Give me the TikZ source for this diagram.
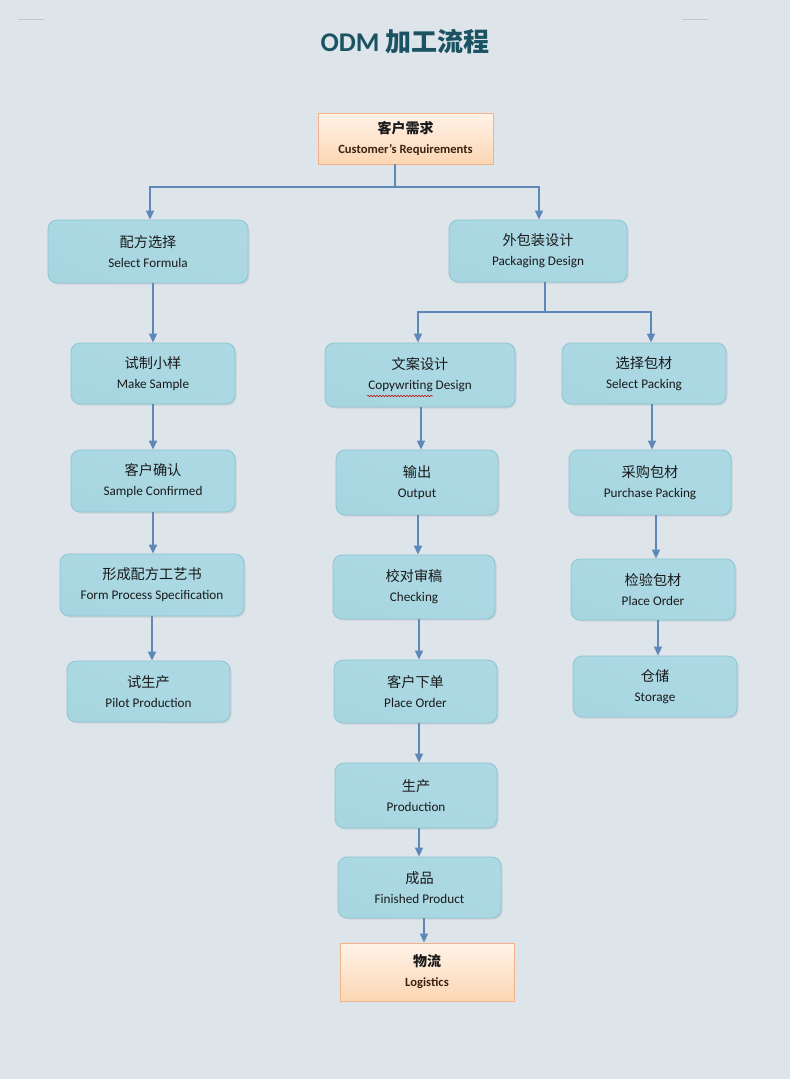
\documentclass[tikz,border=0pt]{standalone}
\usepackage{fontspec}
\setmainfont{Carlito}
\newfontfamily\cjk{Noto Sans CJK SC}
\usetikzlibrary{arrows.meta,shadows,decorations.pathmorphing,calc}
\definecolor{bg}{HTML}{DDE5EA}
\definecolor{titlec}{HTML}{1B5363}
\definecolor{boxA}{HTML}{ADD9E4}
\definecolor{boxB}{HTML}{DCF0F5}
\definecolor{boxC}{HTML}{A7D6E1}
\definecolor{boxline}{HTML}{8DC5D3}
\definecolor{orA}{HTML}{FFF3E8}
\definecolor{orB}{HTML}{FCD6B4}
\definecolor{orline}{HTML}{F2B486}
\definecolor{arrc}{HTML}{5D88B8}
\definecolor{txt}{HTML}{1A1A1A}
\definecolor{brown}{HTML}{3A2410}
\tikzset{
  box/.style={draw=boxline, line width=0.8pt, rounded corners=9pt,
    top color=boxA, middle color=boxB, bottom color=boxC, shading angle=-20,
    drop shadow={opacity=0.18, shadow xshift=1.5pt, shadow yshift=-1.5pt},
    align=center, text=txt, inner sep=0pt},
  obox/.style={draw=orline, line width=0.8pt,
    top color=orA, bottom color=orB,
    align=center, text=txt, inner sep=0pt},
  arr/.style={draw=arrc, line width=1.4pt, -{Triangle[width=8pt,length=9pt]}},
  ln/.style={draw=arrc, line width=1.4pt},
}
\newcommand{\bt}[2]{{\cjk\fontsize{14.2}{16}\selectfont #1}\\[8pt]{\fontsize{13.2}{14}\selectfont #2}}
\newcommand{\btb}[2]{{\cjk\bfseries\fontsize{14}{16}\selectfont #1}\\[8pt]{\bfseries\color{brown}\fontsize{12.6}{14}\selectfont #2}}
\begin{document}
\begin{tikzpicture}[x=1pt,y=-1pt]
\fill[bg] (0,0) rectangle (790,1079);
\useasboundingbox (0,0) rectangle (790,1079);
% crop marks
\draw[gray!45, line width=0.6pt] (18,19) -- (44,19);
\draw[gray!45, line width=0.6pt] (682,19) -- (708,19);
% title
\node[text=titlec] (title) at (405,42) {{\bfseries\fontsize{27}{30}\selectfont ODM }{\cjk\bfseries\fontsize{26}{30}\selectfont 加工流程}};

\node[obox, minimum width=175pt, minimum height=51pt] (top) at (405.5,138.5) {\btb{客户需求}{Customer's Requirements}};

\node[box, minimum width=200pt, minimum height=63pt] (f1) at (148,251.5) {\bt{配方选择}{Select Formula}};
\node[box, minimum width=178pt, minimum height=62pt] (p1) at (538,251) {\bt{外包装设计}{Packaging Design}};

\node[box, minimum width=164pt, minimum height=61pt] (f2) at (153,373.5) {\bt{试制小样}{Make Sample}};
\node[box, minimum width=190pt, minimum height=64pt] (c1) at (420,375) {\bt{文案设计}{Copywriting Design}};
\node[box, minimum width=164pt, minimum height=61pt] (s1) at (644,373.5) {\bt{选择包材}{Select Packing}};

\node[box, minimum width=164pt, minimum height=62pt] (f3) at (153,481) {\bt{客户确认}{Sample Confirmed}};
\node[box, minimum width=162pt, minimum height=65pt] (c2) at (417,482.5) {\bt{输出}{Output}};
\node[box, minimum width=162pt, minimum height=65pt] (s2) at (650,482.5) {\bt{采购包材}{Purchase Packing}};

\node[box, minimum width=184pt, minimum height=62pt] (f4) at (152,585) {\bt{形成配方工艺书}{Form Process Specification}};
\node[box, minimum width=162pt, minimum height=64pt] (c3) at (414,587) {\bt{校对审稿}{Checking}};
\node[box, minimum width=164pt, minimum height=61pt] (s3) at (653,589.5) {\bt{检验包材}{Place Order}};

\node[box, minimum width=163pt, minimum height=61pt] (f5) at (148.5,691.5) {\bt{试生产}{Pilot Production}};
\node[box, minimum width=163pt, minimum height=63pt] (c4) at (415.5,691.5) {\bt{客户下单}{Place Order}};
\node[box, minimum width=164pt, minimum height=61pt] (s4) at (655,686.5) {\bt{仓储}{Storage}};

\node[box, minimum width=162pt, minimum height=65pt] (c5) at (416,795.5) {\bt{生产}{Production}};
\node[box, minimum width=163pt, minimum height=61pt] (c6) at (419.5,887.5) {\bt{成品}{Finished Product}};
\node[obox, minimum width=174pt, minimum height=58pt] (lg) at (427,972) {\btb{物流}{Logistics}};

% spell-check wavy underline
\draw[red!80!black, line width=0.5pt, decorate, decoration={snake, amplitude=0.8pt, segment length=3pt}] (367,396) -- (433,396);

% branch from top
\coordinate (j1) at (395,187);
\draw[ln] (top.south -| j1) -- (j1);
\draw[arr] (j1) -| ([xshift=2pt]f1.north);
\draw[arr] (j1) -| ([xshift=1pt]p1.north);
% branch from packaging
\coordinate (j2) at (545,312);
\draw[ln] (p1.south -| j2) -- (j2);
\draw[arr] (j2) -| ([xshift=-2pt]c1.north);
\draw[arr] (j2) -| ([xshift=7pt]s1.north);

% left column
\draw[arr] (f1.south -| f2) -- (f2.north);
\draw[arr] (f2.south) -- (f3.north);
\draw[arr] (f3.south) -- (f3.south |- f4.north);
\draw[arr] (f4.south) -- (f4.south |- f5.north);
% middle column
\draw[arr] ([xshift=1pt]c1.south) -- ([xshift=1pt]c1.south |- c2.north);
\draw[arr] ([xshift=1pt]c2.south) -- ([xshift=1pt]c2.south |- c3.north);
\draw[arr] ([xshift=5pt]c3.south) -- ([xshift=5pt]c3.south |- c4.north);
\draw[arr] ([xshift=3.5pt]c4.south) -- ([xshift=3.5pt]c4.south |- c5.north);
\draw[arr] ([xshift=3pt]c5.south) -- ([xshift=3pt]c5.south |- c6.north);
\draw[arr] ([xshift=4.5pt]c6.south) -- ([xshift=4.5pt]c6.south |- lg.north);
% right column
\draw[arr] ([xshift=8pt]s1.south) -- ([xshift=8pt]s1.south |- s2.north);
\draw[arr] ([xshift=6pt]s2.south) -- ([xshift=6pt]s2.south |- s3.north);
\draw[arr] ([xshift=5pt]s3.south) -- ([xshift=5pt]s3.south |- s4.north);
\end{tikzpicture}
\end{document}
